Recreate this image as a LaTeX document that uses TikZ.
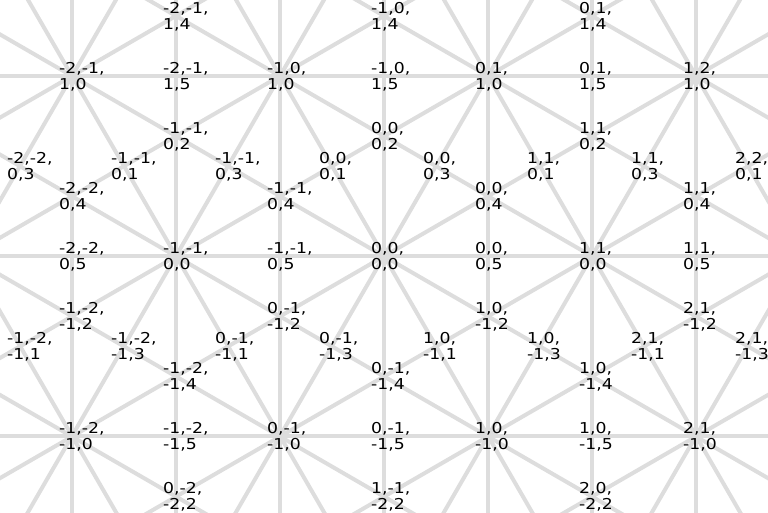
\documentclass[tikz,border=0pt]{standalone}
\usepackage{fontspec}
\setmainfont{DejaVu Sans}
\newfontfamily\labfont[FakeStretch=1.15]{DejaVu Sans}
\definecolor{gridgray}{HTML}{DDDDDD}
\newcommand{\lab}[5]{\node[lab] (#1) at (#2-13,#3-13.4) {#4\\#5};}
\begin{document}
\begin{tikzpicture}[x=1pt,y=-1pt,
  gridline/.style={draw=gridgray, line width=4pt},
  lab/.style={anchor=north west, inner sep=0pt, align=left,
    font=\labfont\fontsize{15}{15.5}\selectfont, text=black}]
\useasboundingbox (0,0) rectangle (768,512);
\begin{scope}
\clip (0,0) rectangle (768,512);
\foreach \xx in {-968,-760,...,2568} {
  \draw[gridline] (\xx-416,796) -- (\xx+416,-644);
  \draw[gridline] (\xx+416,796) -- (\xx-416,-644);
  \draw[gridline] (\xx-1080,-548) -- (\xx+1080,700);
  \draw[gridline] (\xx-1080,700) -- (\xx+1080,-548);
}
\foreach \yy in {76,256,436} \draw[gridline] (-10,\yy) -- (778,\yy);
\foreach \xx in {72,176,...,696} \draw[gridline] (\xx,-10) -- (\xx,522);
\end{scope}
% row y=16
\lab{a1}{176}{16}{-2,-1,}{1,4}
\lab{a2}{384}{16}{-1,0,}{1,4}
\lab{a3}{592}{16}{0,1,}{1,4}
% row y=76
\lab{b1}{72}{76}{-2,-1,}{1,0}
\lab{b2}{176}{76}{-2,-1,}{1,5}
\lab{b3}{280}{76}{-1,0,}{1,0}
\lab{b4}{384}{76}{-1,0,}{1,5}
\lab{b5}{488}{76}{0,1,}{1,0}
\lab{b6}{592}{76}{0,1,}{1,5}
\lab{b7}{696}{76}{1,2,}{1,0}
% row y=136
\lab{c1}{176}{136}{-1,-1,}{0,2}
\lab{c2}{384}{136}{0,0,}{0,2}
\lab{c3}{592}{136}{1,1,}{0,2}
% row y=166
\lab{d1}{20}{166}{-2,-2,}{0,3}
\lab{d2}{124}{166}{-1,-1,}{0,1}
\lab{d3}{228}{166}{-1,-1,}{0,3}
\lab{d4}{332}{166}{0,0,}{0,1}
\lab{d5}{436}{166}{0,0,}{0,3}
\lab{d6}{540}{166}{1,1,}{0,1}
\lab{d7}{644}{166}{1,1,}{0,3}
\lab{d8}{748}{166}{2,2,}{0,1}
% row y=196
\lab{e1}{72}{196}{-2,-2,}{0,4}
\lab{e2}{280}{196}{-1,-1,}{0,4}
\lab{e3}{488}{196}{0,0,}{0,4}
\lab{e4}{696}{196}{1,1,}{0,4}
% row y=256
\lab{f1}{72}{256}{-2,-2,}{0,5}
\lab{f2}{176}{256}{-1,-1,}{0,0}
\lab{f3}{280}{256}{-1,-1,}{0,5}
\lab{f4}{384}{256}{0,0,}{0,0}
\lab{f5}{488}{256}{0,0,}{0,5}
\lab{f6}{592}{256}{1,1,}{0,0}
\lab{f7}{696}{256}{1,1,}{0,5}
% row y=316
\lab{g1}{72}{316}{-1,-2,}{-1,2}
\lab{g2}{280}{316}{0,-1,}{-1,2}
\lab{g3}{488}{316}{1,0,}{-1,2}
\lab{g4}{696}{316}{2,1,}{-1,2}
% row y=346
\lab{h1}{20}{346}{-1,-2,}{-1,1}
\lab{h2}{124}{346}{-1,-2,}{-1,3}
\lab{h3}{228}{346}{0,-1,}{-1,1}
\lab{h4}{332}{346}{0,-1,}{-1,3}
\lab{h5}{436}{346}{1,0,}{-1,1}
\lab{h6}{540}{346}{1,0,}{-1,3}
\lab{h7}{644}{346}{2,1,}{-1,1}
\lab{h8}{748}{346}{2,1,}{-1,3}
% row y=376
\lab{i1}{176}{376}{-1,-2,}{-1,4}
\lab{i2}{384}{376}{0,-1,}{-1,4}
\lab{i3}{592}{376}{1,0,}{-1,4}
% row y=436
\lab{j1}{72}{436}{-1,-2,}{-1,0}
\lab{j2}{176}{436}{-1,-2,}{-1,5}
\lab{j3}{280}{436}{0,-1,}{-1,0}
\lab{j4}{384}{436}{0,-1,}{-1,5}
\lab{j5}{488}{436}{1,0,}{-1,0}
\lab{j6}{592}{436}{1,0,}{-1,5}
\lab{j7}{696}{436}{2,1,}{-1,0}
% row y=496
\lab{k1}{176}{496}{0,-2,}{-2,2}
\lab{k2}{384}{496}{1,-1,}{-2,2}
\lab{k3}{592}{496}{2,0,}{-2,2}
\end{tikzpicture}
\end{document}
